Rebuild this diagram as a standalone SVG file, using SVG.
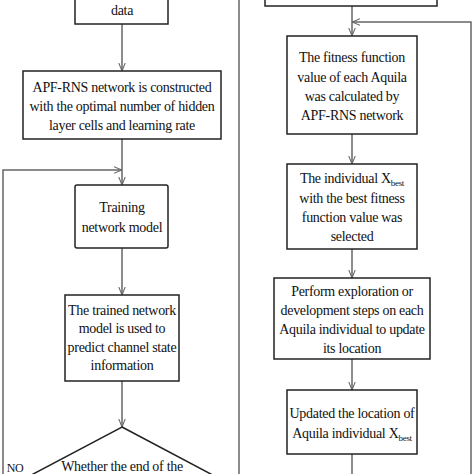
<svg xmlns="http://www.w3.org/2000/svg" width="474" height="474" viewBox="0 0 474 474">
<style>
.box{fill:#fff;stroke:#222;stroke-width:1.5}
.t{font-family:"Liberation Serif","Times New Roman",serif;font-size:14px;letter-spacing:-0.3px;fill:#111;text-anchor:middle}
.c{fill:none;stroke:#666;stroke-width:1.5}
.sub{font-size:9px}
</style>
<defs>
<marker id="a" viewBox="0 0 10 10" refX="10" refY="5" markerWidth="8" markerHeight="8" orient="auto" markerUnits="userSpaceOnUse">
<polyline points="0,1 10,5 0,9" fill="none" stroke="#666" stroke-width="1.3"/>
</marker>
</defs>
<rect width="474" height="474" fill="#fff"/>
<g id="connectors">
<line class="c" x1="239" y1="0" x2="239" y2="474"/>
<line class="c" x1="122" y1="24" x2="122" y2="71" marker-end="url(#a)"/>
<line class="c" x1="122" y1="139" x2="122" y2="185" marker-end="url(#a)"/>
<polyline class="c" points="3,474 3,170 122,170" marker-end="url(#a)"/>
<line class="c" x1="122" y1="248" x2="122" y2="295" marker-end="url(#a)"/>
<line class="c" x1="122" y1="381" x2="122" y2="427" marker-end="url(#a)"/>
<line class="c" x1="352" y1="6" x2="352" y2="36" marker-end="url(#a)"/>
<polyline class="c" points="471,474 471,22 352,22" marker-end="url(#a)"/>
<line class="c" x1="352" y1="134" x2="352" y2="164" marker-end="url(#a)"/>
<line class="c" x1="352" y1="249" x2="352" y2="278" marker-end="url(#a)"/>
<line class="c" x1="352" y1="359" x2="352" y2="390" marker-end="url(#a)"/>
<line class="c" x1="352" y1="454" x2="352" y2="474"/>
<text class="t" x="15" y="472" style="font-size:12px">NO</text>
</g>
<g id="data">
<rect class="box" x="75" y="-10" width="93" height="34"/>
<text class="t" x="122" y="15">data</text>
</g>
<g id="apf">
<rect class="box" x="23" y="71" width="198" height="68"/>
<text class="t" x="122" y="92">APF-RNS network is constructed</text>
<text class="t" x="122" y="111">with the optimal number of hidden</text>
<text class="t" x="122" y="130">layer cells and learning rate</text>
</g>
<g id="training">
<rect class="box" x="75" y="185" width="93" height="63" rx="2"/>
<text class="t" x="122" y="212">Training</text>
<text class="t" x="122" y="232">network model</text>
</g>
<g id="trained">
<rect class="box" x="65" y="295" width="114" height="86"/>
<text class="t" x="122" y="315">The trained network</text>
<text class="t" x="122" y="333">model is used to</text>
<text class="t" x="122" y="352">predict channel state</text>
<text class="t" x="122" y="370">information</text>
</g>
<g id="decision">
<polygon class="box" points="122,427 224,481 122,535 20,481"/>
<text class="t" x="122" y="471">Whether the end of the</text>
</g>
<g id="top-right">
<rect class="box" x="265" y="-10" width="172" height="16"/>
</g>
<g id="fitness">
<rect class="box" x="287" y="36" width="130" height="98"/>
<text class="t" x="352" y="62">The fitness function</text>
<text class="t" x="352" y="82">value of each Aquila</text>
<text class="t" x="352" y="101">was calculated by</text>
<text class="t" x="352" y="120">APF-RNS network</text>
</g>
<g id="select">
<rect class="box" x="287" y="164" width="130" height="85"/>
<text class="t" x="352" y="183">The individual X<tspan class="sub" dy="3">best</tspan></text>
<text class="t" x="352" y="203">with the best fitness</text>
<text class="t" x="352" y="222">function value was</text>
<text class="t" x="352" y="241">selected</text>
</g>
<g id="perform">
<rect class="box" x="274" y="278" width="156" height="81"/>
<text class="t" x="352" y="296">Perform exploration or</text>
<text class="t" x="352" y="315">development steps on each</text>
<text class="t" x="352" y="334">Aquila individual to update</text>
<text class="t" x="352" y="353">its location</text>
</g>
<g id="update">
<rect class="box" x="287" y="390" width="130" height="64"/>
<text class="t" x="352" y="418">Updated the location of</text>
<text class="t" x="352" y="438">Aquila individual X<tspan class="sub" dy="3">best</tspan></text>
</g>
</svg>
